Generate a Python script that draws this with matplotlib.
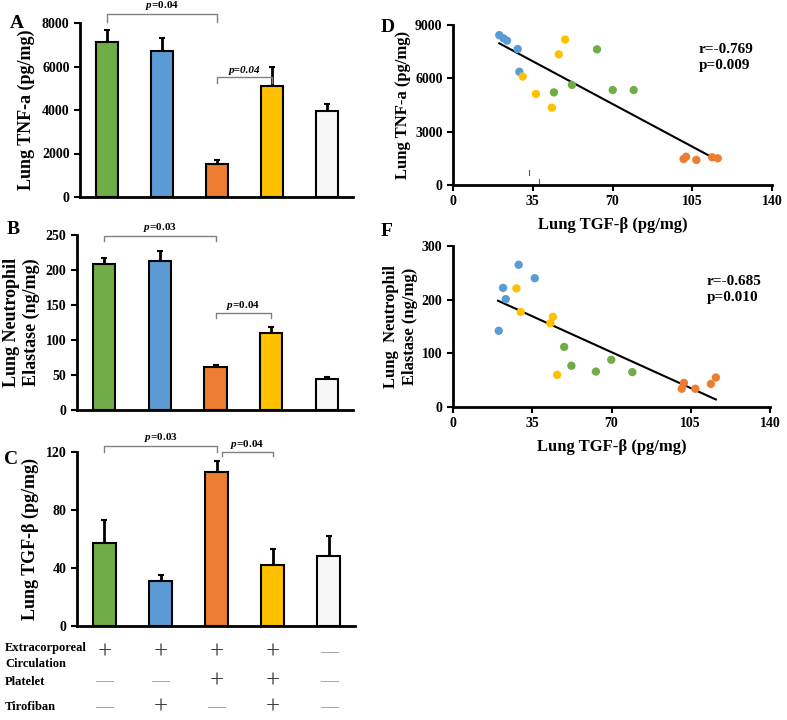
import numpy as np
import matplotlib
matplotlib.use("Agg")
import matplotlib.pyplot as plt

plt.rcParams['font.family'] = ['Liberation Serif', 'DejaVu Serif']
plt.rcParams['font.weight'] = 'bold'
plt.rcParams['axes.labelweight'] = 'bold'
plt.rcParams['mathtext.fontset'] = 'custom'
plt.rcParams['mathtext.it'] = 'Liberation Serif:italic:bold'
plt.rcParams['mathtext.rm'] = 'Liberation Serif:bold'

# ---- data ----
bar_colors = ['#70AD47', '#5B9BD5', '#ED7D31', '#FFC000', '#F7F7F7']

tnf_mean = [7130, 6730, 1530, 5110, 3960]
tnf_err = [560, 590, 150, 880, 310]

ela_mean = [208, 213, 61, 110, 45]
ela_err = [9, 14, 3, 8, 2]

tgf_mean = [57, 31, 106, 42, 48]
tgf_err = [16, 4, 8, 11, 14]

row_labels = ['Extracorporeal\nCirculation', 'Platelet', 'Tirofiban']
row_signs = [['+', '+', '+', '+', '-'],
             ['-', '-', '+', '+', '-'],
             ['-', '+', '-', '+', '-']]

# scatter: groups in order blue, yellow, green, orange
scatter_colors = ['#5B9BD5', '#FFC000', '#70AD47', '#ED7D31']
tgf_pts = [[20.3, 22.2, 23.7, 28.4, 29.1],
           [30.6, 36.4, 43.4, 46.4, 49.2],
           [44.3, 52.2, 63.2, 70.1, 79.3],
           [101.2, 102.3, 106.8, 113.7, 116.2]]
tnf_pts = [[8430, 8250, 8120, 7650, 6370],
           [6100, 5120, 4350, 7350, 8180],
           [5210, 5630, 7630, 5340, 5340],
           [1460, 1590, 1410, 1560, 1500]]

tgf_pts_f = [[20.2, 22.1, 23.3, 29.0, 36.1],
             [28.0, 29.9, 43.0, 44.1, 46.0],
             [49.1, 52.3, 63.1, 69.9, 79.2],
             [101.0, 102.0, 107.0, 113.9, 116.1]]
ela_pts = [[142, 222, 201, 265, 240],
           [221, 177, 156, 168, 60],
           [112, 77, 66, 88, 65],
           [34, 45, 34, 43, 55]]

fit_d = [(20.3, 7970), (115.9, 1410)]
fit_f = [(19.9, 198), (116.1, 14)]

W, H = 787, 720
fig = plt.figure(figsize=(W / 100, H / 100), dpi=100)


def rect(l, t, r, b):
    return [l / W, 1 - b / H, (r - l) / W, (b - t) / H]


def style_axes(ax):
    for s in ['top', 'right']:
        ax.spines[s].set_visible(False)
    for s in ['left', 'bottom']:
        ax.spines[s].set_linewidth(2)
    ax.tick_params(width=1.5, length=4, labelsize=10)


def bar_panel(ax, means, errs, ymax, yticks):
    x = np.arange(len(means))
    ax.bar(x, means, width=0.4, color=bar_colors, edgecolor='black', linewidth=1.5, zorder=2)
    ax.errorbar(x, means, yerr=[np.zeros(len(errs)), errs], fmt='none', ecolor='black',
                elinewidth=2, capsize=2.5, capthick=1.5, zorder=1)
    ax.set_xlim(-0.49, 4.47)
    ax.set_ylim(0, ymax)
    ax.set_yticks(yticks)
    ax.set_xticks([])
    style_axes(ax)


def bracket(ax, x1, x2, y, drop, text, italic_all=False):
    ax.plot([x1, x1, x2, x2], [y - drop, y, y, y - drop], color='#808080', lw=1, clip_on=False)
    label = r'$p$=' + text if not italic_all else text
    ax.text((x1 + x2) / 2, y + drop * 0.3, label, ha='center', va='bottom', fontsize=8,
            style='italic' if italic_all else 'normal', clip_on=False)


# A
axA = fig.add_axes(rect(80, 23, 353, 197))
bar_panel(axA, tnf_mean, tnf_err, 8000, [0, 2000, 4000, 6000, 8000])
axA.set_ylabel('Lung TNF-a (pg/mg)', fontsize=13, labelpad=5)
bracket(axA, 0, 2, 8400, 350, '0.04')
bracket(axA, 2, 3, 5530, 300, 'p=0.04', italic_all=True)
fig.text(10 / W, 1 - 23 / H, 'A', fontsize=14, va='center')

# B
axB = fig.add_axes(rect(77, 235, 353, 410))
bar_panel(axB, ela_mean, ela_err, 250, [0, 50, 100, 150, 200, 250])
axB.set_ylabel('Lung Neutrophil\nElastase (ng/mg)', fontsize=13, labelpad=4)
bracket(axB, 0, 2, 249, 8, '0.03')
bracket(axB, 2, 3, 138, 6, '0.04')
fig.text(7 / W, 1 - 229 / H, 'B', fontsize=14, va='center')

# C
axC = fig.add_axes(rect(77, 452, 355, 626))
bar_panel(axC, tgf_mean, tgf_err, 120, [0, 40, 80, 120])
axC.set_ylabel('Lung TGF-β (pg/mg)', fontsize=13, labelpad=5)
bracket(axC, 0, 2, 124, 4, '0.03')
bracket(axC, 2.09, 3, 120, 3, '0.04')
fig.text(4 / W, 1 - 460 / H, 'C', fontsize=14, va='center')

# sign table under C
row_y = [653, 682, 708]
label_y = [656, 682, 707]
for lab, ly in zip(row_labels, label_y):
    fig.text(5 / W, 1 - ly / H, lab, fontsize=9, va='center', ha='left', linespacing=1.4)
xt = axC.get_xaxis_transform()
for signs, ry in zip(row_signs, row_y):
    for i, s in enumerate(signs):
        yax = (1 - ry / H - axC.get_position().y0) / axC.get_position().height
        if s == '+':
            axC.text(i, yax, '+', transform=xt, ha='center', va='center', fontsize=18,
                     fontweight='normal', color='#3a3a3a', clip_on=False)
        else:
            axC.text(i, yax, '\u2014', transform=xt, ha='center', va='center', fontsize=13,
                     fontweight='normal', color='#8c8c8c', clip_on=False)


def scatter_panel(ax, xs, ys, ymax, yticks, fit):
    for xg, yg, c in zip(xs, ys, scatter_colors):
        ax.scatter(xg, yg, s=36, color=c, edgecolors='none', zorder=3)
    ax.plot([p[0] for p in fit], [p[1] for p in fit], color='black', lw=1.5, zorder=2)
    ax.set_xlim(0, 140)
    ax.set_ylim(0, ymax)
    ax.set_xticks([0, 35, 70, 105, 140])
    ax.set_yticks(yticks)
    style_axes(ax)
    ax.set_xlabel('Lung TGF-β (pg/mg)', fontsize=12, labelpad=6)


# D
axD = fig.add_axes(rect(453, 25, 772, 185))
scatter_panel(axD, tgf_pts, tnf_pts, 9000, [0, 3000, 6000, 9000], fit_d)
axD.set_ylabel('Lung TNF-a (pg/mg)', fontsize=12, labelpad=3)
axD.plot([33.2, 33.2], [560, 840], color='#555555', lw=0.8)
axD.plot([37.8, 37.8], [90, 330], color='#555555', lw=0.8)
axD.text(0.77, 0.89, 'r=-0.769\np=0.009', transform=axD.transAxes, fontsize=11,
         va='top', ha='left', linespacing=1.3)
fig.text(381 / W, 1 - 27 / H, 'D', fontsize=14, va='center')

# F
axF = fig.add_axes(rect(453, 246, 770, 407))
scatter_panel(axF, tgf_pts_f, ela_pts, 300, [0, 100, 200, 300], fit_f)
axF.set_ylabel('Lung  Neutrophil\nElastase (ng/mg)', fontsize=12, labelpad=3)
axF.text(0.80, 0.82, 'r=-0.685\np=0.010', transform=axF.transAxes, fontsize=11,
         va='top', ha='left', linespacing=1.3)
fig.text(381 / W, 1 - 232 / H, 'F', fontsize=14, va='center')

fig.savefig('out.png', dpi=100)
